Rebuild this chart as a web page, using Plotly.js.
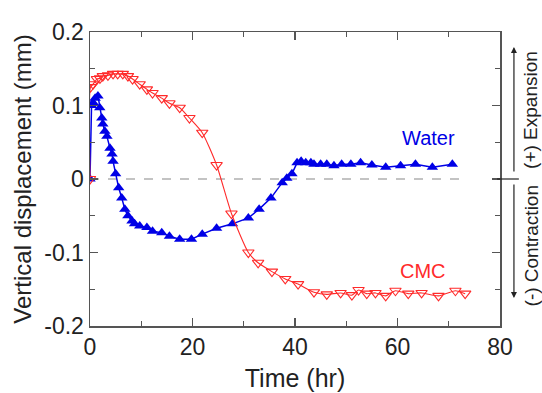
<!DOCTYPE html>
<html>
<head>
<meta charset="utf-8">
<script src="https://cdn.plot.ly/plotly-3.0.1.min.js"></script>
<style>html,body{margin:0;padding:0;background:#fff;}#chart{width:542px;height:393px;}</style>
</head>
<body>
<div id="chart"></div>
<script>
// Water series (hr, mm)
const waterTime = [0, 0.3, 0.6, 1.0, 1.55, 1.9, 2.3, 2.5, 2.9, 3.3, 3.9, 4.3, 4.5, 5.0, 5.6, 6.2, 6.8, 7.4, 8.2, 8.7, 9.7, 11.1, 12.2, 14.0, 15.5, 17.5, 19.8, 21.9, 24.7, 27.8, 30.9, 33.0, 35.3, 37.5, 38.4, 39.4, 40.4, 41.2, 42.1, 43.1, 43.7, 45.0, 46.2, 47.6, 49.1, 50.9, 52.8, 55.0, 57.7, 60.6, 63.5, 66.8, 70.7];
const waterDisp = [0, 0.100, 0.104, 0.110, 0.113, 0.097, 0.083, 0.075, 0.065, 0.058, 0.042, 0.034, 0.024, 0.007, -0.012, -0.026, -0.041, -0.050, -0.057, -0.061, -0.064, -0.066, -0.071, -0.073, -0.078, -0.082, -0.082, -0.075, -0.067, -0.061, -0.053, -0.041, -0.026, -0.005, 0.001, 0.007, 0.022, 0.024, 0.022, 0.022, 0.020, 0.020, 0.020, 0.018, 0.020, 0.020, 0.022, 0.019, 0.016, 0.018, 0.020, 0.016, 0.020];
// CMC series (hr, mm)
const cmcTime = [0, 0.1, 0.6, 1.36, 1.94, 2.5, 3.5, 4.5, 5.4, 6.4, 7.4, 8.3, 9.7, 11.1, 12.2, 14.0, 15.5, 17.5, 19.4, 21.9, 24.7, 27.6, 30.9, 32.8, 35.5, 38.1, 40.6, 43.7, 46.2, 48.9, 51.1, 52.4, 54.0, 55.7, 57.7, 59.6, 62.1, 64.7, 68.0, 71.3, 73.2];
const cmcDisp = [0, 0.125, 0.129, 0.136, 0.137, 0.140, 0.141, 0.143, 0.143, 0.143, 0.140, 0.136, 0.129, 0.122, 0.117, 0.110, 0.103, 0.097, 0.083, 0.063, 0.019, -0.047, -0.100, -0.114, -0.126, -0.136, -0.143, -0.154, -0.157, -0.155, -0.158, -0.151, -0.156, -0.155, -0.159, -0.152, -0.156, -0.155, -0.159, -0.152, -0.156];
const xTicks = [0, 20, 40, 60, 80];
const yTickVals = [-0.2, -0.1, 0, 0.1, 0.2];
const yTickText = ['-0.2', '-0.1', '0', '0.1', '0.2'];

const FONT = 'Liberation Sans, Arial, sans-serif';
const BLUE = '#0000e6';
const RED = '#ff2a2a';

const traces = [
  {
    x: waterTime, y: waterDisp, mode: 'lines+markers', name: 'Water',
    line: {color: BLUE, width: 1.5},
    marker: {symbol: 'triangle-up', size: 10, color: BLUE}
  },
  {
    x: cmcTime, y: cmcDisp, mode: 'lines+markers', name: 'CMC',
    line: {color: RED, width: 1.1, shape: 'spline', smoothing: 0.6},
    marker: {symbol: 'triangle-down-open', size: 10, color: RED, line: {width: 1.1}}
  }
];

const axisCommon = {
  showline: true, linecolor: '#555', linewidth: 1.5, mirror: 'allticks',
  ticks: 'inside', ticklen: 8, tickwidth: 1.2, tickcolor: '#555',
  showgrid: false, zeroline: false,
  tickfont: {family: FONT, size: 23, color: '#222'}
};

const layout = {
  width: 542, height: 393,
  margin: {l: 90, r: 42, t: 32, b: 67},
  paper_bgcolor: '#fff', plot_bgcolor: '#fff',
  showlegend: false,
  font: {family: FONT, color: '#222'},
  xaxis: Object.assign({}, axisCommon, {
    range: [0, 80], tickvals: xTicks,
    minor: {ticks: 'inside', ticklen: 5, dtick: 10, tickcolor: '#555'},
    title: {text: 'Time (hr)', font: {family: FONT, size: 25, color: '#222'}, standoff: 10}
  }),
  yaxis: Object.assign({}, axisCommon, {
    range: [-0.2, 0.2], tickvals: yTickVals, ticktext: yTickText,
    minor: {ticks: 'inside', ticklen: 5, dtick: 0.05, tickcolor: '#555'},
    title: {text: 'Vertical displacement (mm)', font: {family: FONT, size: 24, color: '#222'}, standoff: 6}
  }),
  shapes: [
    {type: 'line', xref: 'x', yref: 'y', x0: 0, x1: 73, y0: 0, y1: 0, layer: 'below',
     line: {color: '#888', width: 1.2, dash: 'dash'}},
    {type: 'line', xref: 'paper', yref: 'y', x0: 0.993, x1: 1.046, y0: 0, y1: 0,
     line: {color: '#222', width: 1.2}}
  ],
  annotations: [
    {text: 'Water', x: 66, y: 0.056, xref: 'x', yref: 'y', showarrow: false,
     xanchor: 'center', yanchor: 'middle',
     font: {family: FONT, size: 20, color: BLUE}},
    {text: 'CMC', x: 65, y: -0.125, xref: 'x', yref: 'y', showarrow: false,
     xanchor: 'center', yanchor: 'middle',
     font: {family: FONT, size: 20, color: RED}},
    {text: '', x: 1.034, y: 0.949, xref: 'paper', yref: 'paper', showarrow: true,
     axref: 'pixel', ayref: 'pixel', ax: 0, ay: 126, arrowhead: 2, arrowsize: 1, arrowwidth: 1.2, arrowcolor: '#222'},
    {text: '', x: 1.034, y: 0.095, xref: 'paper', yref: 'paper', showarrow: true,
     axref: 'pixel', ayref: 'pixel', ax: 0, ay: -115, arrowhead: 2, arrowsize: 1, arrowwidth: 1.2, arrowcolor: '#222'},
    {text: '(+) Expansion', x: 1.0756, y: 0.735, xref: 'paper', yref: 'paper', showarrow: false,
     xanchor: 'center', yanchor: 'middle',
     textangle: -90, font: {family: FONT, size: 19, color: '#222'}},
    {text: '(-) Contraction', x: 1.0756, y: 0.274, xref: 'paper', yref: 'paper', showarrow: false,
     xanchor: 'center', yanchor: 'middle',
     textangle: -90, font: {family: FONT, size: 19, color: '#222'}}
  ]
};

Plotly.newPlot('chart', traces, layout, {displayModeBar: false, staticPlot: true});
</script>
</body>
</html>
